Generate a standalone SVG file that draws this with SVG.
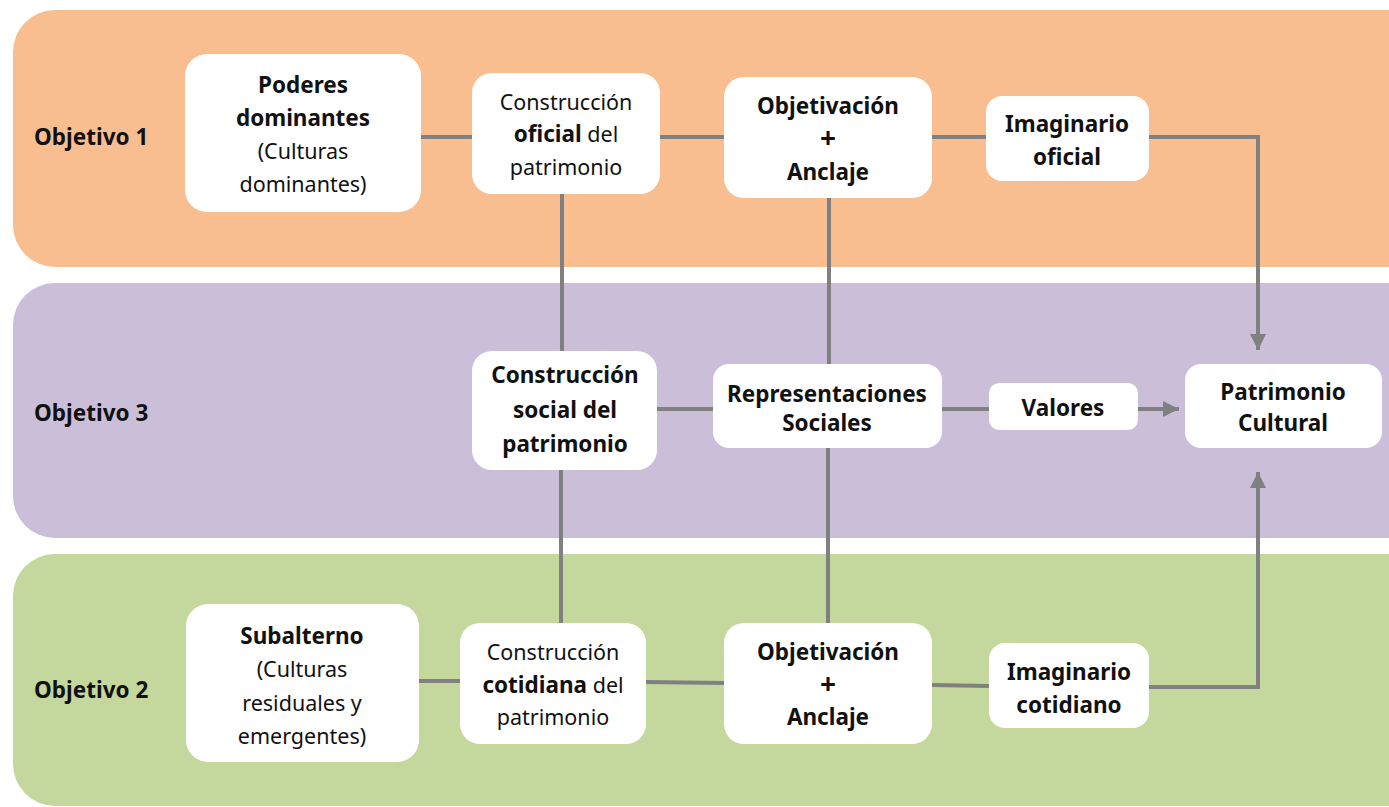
<svg xmlns="http://www.w3.org/2000/svg" width="1389" height="807" viewBox="0 0 1389 807">
<defs>
<style>
.band-o{fill:#F9BE8F}
.band-p{fill:#CABED8}
.band-g{fill:#C4D79D}
.node{fill:#FFFFFF}
.t{font-family:"Noto Sans","Liberation Sans",sans-serif;font-size:21.5px;fill:#111111;text-anchor:middle}
.b{font-weight:bold;font-size:22.5px}
.plus{font-size:28px}
.lbl{font-family:"Noto Sans","Liberation Sans",sans-serif;font-size:22.5px;font-weight:bold;fill:#111111}
.c{fill:none;stroke:#808080;stroke-width:4}
</style>
<marker id="arr" viewBox="0 0 10 10" refX="10" refY="5" markerWidth="4" markerHeight="4" orient="auto" markerUnits="strokeWidth">
<path d="M0,0 L10,5 L0,10 z" fill="#808080"/>
</marker>
</defs>
<rect width="1389" height="807" fill="#FFFFFF"/>
<g id="bands">
<rect class="band-o" x="13" y="10" width="1420" height="257" rx="42"/>
<rect class="band-p" x="13" y="283" width="1420" height="255" rx="42"/>
<rect class="band-g" x="13" y="554" width="1420" height="252" rx="42"/>
<text class="lbl" x="34" y="145">Objetivo 1</text>
<text class="lbl" x="34" y="421">Objetivo 3</text>
<text class="lbl" x="34" y="698">Objetivo 2</text>
</g>
<g id="connectors">
<line class="c" x1="421" y1="137" x2="472" y2="137"/>
<line class="c" x1="660" y1="137" x2="724" y2="137"/>
<line class="c" x1="932" y1="137" x2="986" y2="137"/>
<polyline class="c" points="1149,137 1258,137 1258,350" marker-end="url(#arr)"/>
<line class="c" x1="562" y1="194" x2="562" y2="351"/>
<line class="c" x1="561" y1="470" x2="561" y2="623"/>
<line class="c" x1="829" y1="198" x2="829" y2="364"/>
<line class="c" x1="828" y1="448" x2="828" y2="623"/>
<line class="c" x1="657" y1="409" x2="713" y2="409"/>
<line class="c" x1="942" y1="409" x2="989" y2="409"/>
<line class="c" x1="1138" y1="409" x2="1179" y2="409" marker-end="url(#arr)"/>
<line class="c" x1="419" y1="681" x2="460" y2="681"/>
<line class="c" x1="646" y1="682" x2="724" y2="683"/>
<line class="c" x1="932" y1="685" x2="989" y2="686"/>
<polyline class="c" points="1149,687 1258,687 1258,472" marker-end="url(#arr)"/>
</g>
<g id="poderes">
<rect class="node" x="185" y="54" width="236" height="158" rx="22"/>
<text class="t b" x="303" y="93">Poderes</text>
<text class="t b" x="303" y="126">dominantes</text>
<text class="t" x="303" y="159">(Culturas</text>
<text class="t" x="303" y="192">dominantes)</text>
</g>
<g id="construccion-oficial">
<rect class="node" x="472" y="73" width="188" height="121" rx="20"/>
<text class="t" x="566" y="110">Construcción</text>
<text class="t" x="566" y="142"><tspan class="b">oficial</tspan> del</text>
<text class="t" x="566" y="175">patrimonio</text>
</g>
<g id="objetivacion-1">
<rect class="node" x="724" y="77" width="208" height="121" rx="20"/>
<text class="t b" x="828" y="114">Objetivación</text>
<text class="t b plus" x="828" y="148">+</text>
<text class="t b" x="828" y="180">Anclaje</text>
</g>
<g id="imaginario-oficial">
<rect class="node" x="986" y="96" width="163" height="85" rx="16"/>
<text class="t b" x="1067" y="132">Imaginario</text>
<text class="t b" x="1067" y="165">oficial</text>
</g>
<g id="construccion-social">
<rect class="node" x="472" y="351" width="185" height="119" rx="20"/>
<text class="t b" x="565" y="383">Construcción</text>
<text class="t b" x="565" y="418">social del</text>
<text class="t b" x="565" y="452">patrimonio</text>
</g>
<g id="representaciones">
<rect class="node" x="713" y="364" width="229" height="84" rx="16"/>
<text class="t b" x="827" y="402">Representaciones</text>
<text class="t b" x="827" y="431">Sociales</text>
</g>
<g id="valores">
<rect class="node" x="989" y="383" width="149" height="47" rx="10"/>
<text class="t b" x="1063" y="416">Valores</text>
</g>
<g id="patrimonio-cultural">
<rect class="node" x="1185" y="364" width="197" height="84" rx="16"/>
<text class="t b" x="1283" y="400">Patrimonio</text>
<text class="t b" x="1283" y="431">Cultural</text>
</g>
<g id="subalterno">
<rect class="node" x="186" y="604" width="233" height="158" rx="22"/>
<text class="t b" x="302" y="644">Subalterno</text>
<text class="t" x="302" y="677">(Culturas</text>
<text class="t" x="302" y="711">residuales y</text>
<text class="t" x="302" y="744">emergentes)</text>
</g>
<g id="construccion-cotidiana">
<rect class="node" x="460" y="623" width="186" height="121" rx="20"/>
<text class="t" x="553" y="660">Construcción</text>
<text class="t" x="553" y="693"><tspan class="b">cotidiana</tspan> del</text>
<text class="t" x="553" y="725">patrimonio</text>
</g>
<g id="objetivacion-2">
<rect class="node" x="724" y="623" width="208" height="121" rx="20"/>
<text class="t b" x="828" y="660">Objetivación</text>
<text class="t b plus" x="828" y="694">+</text>
<text class="t b" x="828" y="725">Anclaje</text>
</g>
<g id="imaginario-cotidiano">
<rect class="node" x="989" y="643" width="160" height="85" rx="16"/>
<text class="t b" x="1069" y="680">Imaginario</text>
<text class="t b" x="1069" y="713">cotidiano</text>
</g>
</svg>
